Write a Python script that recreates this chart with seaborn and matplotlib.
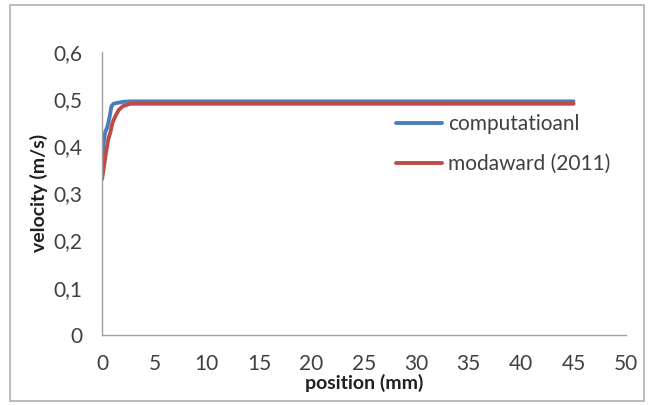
import matplotlib
matplotlib.use("Agg")
import matplotlib.pyplot as plt
import matplotlib.ticker as mticker
import numpy as np
import pandas as pd
import seaborn as sns
from matplotlib.patches import Rectangle

# Values
comp_x = [0.0, 0.1, 0.3, 0.5, 0.7, 0.9, 1.1, 1.5, 2.0, 2.7, 5, 10, 20, 30, 40, 45]
comp_y = [0.35, 0.40, 0.43, 0.44, 0.46, 0.485, 0.49, 0.492, 0.494, 0.495,
          0.495, 0.495, 0.495, 0.495, 0.495, 0.495]
moda_x = [0.0, 0.2, 0.4, 0.6, 0.8, 1.0, 1.3, 1.6, 2.0, 2.7, 5, 10, 20, 30, 40, 45]
moda_y = [0.33, 0.36, 0.39, 0.415, 0.43, 0.45, 0.465, 0.477, 0.485, 0.49,
          0.49, 0.49, 0.49, 0.49, 0.49, 0.49]
series_names = ["computatioanl", "modaward (2011)"]

df = pd.concat([
    pd.DataFrame({"x": comp_x, "y": comp_y, "series": series_names[0]}),
    pd.DataFrame({"x": moda_x, "y": moda_y, "series": series_names[1]}),
])

sns.set_style("white")
plt.rcParams["font.family"] = ["Lato", "DejaVu Sans"]

fig = plt.figure(figsize=(6.5, 4.05), dpi=100)
ax = fig.add_axes([0.157, 0.173, 0.806, 0.699])

sns.lineplot(data=df, x="x", y="y", hue="series", ax=ax, sort=False,
             palette=["#4a7ebb", "#be4b48"], linewidth=2.8, estimator=None)

ax.set_xlim(0, 50)
ax.set_ylim(0, 0.6)
ax.xaxis.set_major_locator(mticker.MultipleLocator(5))
ax.yaxis.set_major_locator(mticker.MultipleLocator(0.1))
ax.yaxis.set_major_formatter(mticker.FuncFormatter(lambda v, p: f"{v:.1f}".replace(".", ",") if v > 0 else "0"))
ax.tick_params(axis="both", labelsize=15, colors="#404040", length=5, width=1,
               direction="out", color="#a0a0a0")
ax.tick_params(axis="x", pad=9)
ax.tick_params(axis="y", pad=9)
for s in ["top", "right"]:
    ax.spines[s].set_visible(False)
for s in ["left", "bottom"]:
    ax.spines[s].set_color("#a0a0a0")
    ax.spines[s].set_linewidth(1)

ax.set_xlabel("position (mm)", fontsize=14, fontweight="bold", color="#202020", labelpad=0)
ax.set_ylabel("velocity (m/s)", fontsize=14, fontweight="bold", color="#202020", labelpad=4)

leg = ax.legend(loc="upper left", bbox_to_anchor=(0.525, 0.845), frameon=False,
                fontsize=15, handlelength=2.2, labelspacing=0.95, handletextpad=0.3)
for t in leg.get_texts():
    t.set_color("#404040")

fig.patches.append(Rectangle((0.016, 0.01), 0.975, 0.978, transform=fig.transFigure,
                             fill=False, edgecolor="#b0b0b0", linewidth=1.2))

fig.savefig("out.png", dpi=100)
